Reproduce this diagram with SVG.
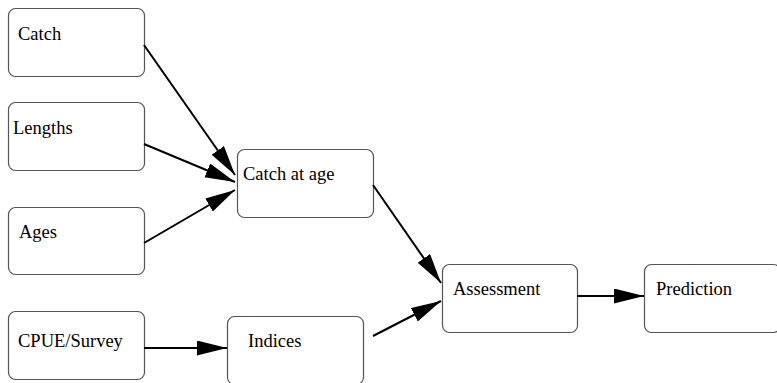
<svg xmlns="http://www.w3.org/2000/svg" width="777" height="383" viewBox="0 0 777 383">
<defs>
<marker id="ah" markerUnits="userSpaceOnUse" markerWidth="32" markerHeight="16" refX="30" refY="7.5" orient="auto">
<path d="M0,0 L30,7.5 L0,15 z" fill="#000"/>
</marker>
</defs>
<style>
.box{fill:#fff;stroke:#555;stroke-width:1.2}
.lbl{font-family:"Liberation Serif","Times New Roman",serif;font-size:18.5px;fill:#000}
.edge{stroke:#000;stroke-width:2;fill:none;marker-end:url(#ah)}
</style>
<rect width="777" height="383" fill="#fff"/>
<g id="catch"><rect class="box" x="8.5" y="8.5" width="136" height="68" rx="7"/><text class="lbl" x="18" y="40">Catch</text></g>
<g id="lengths"><rect class="box" x="8.5" y="102.5" width="136" height="68" rx="7"/><text class="lbl" x="13" y="134">Lengths</text></g>
<g id="ages"><rect class="box" x="8.5" y="207.5" width="136" height="67" rx="7"/><text class="lbl" x="19" y="238">Ages</text></g>
<g id="cpue"><rect class="box" x="8.5" y="311.5" width="136" height="68" rx="7"/><text class="lbl" x="18" y="347">CPUE/Survey</text></g>
<g id="catchatage"><rect class="box" x="237.5" y="149.5" width="136" height="68" rx="7"/><text class="lbl" x="243" y="180">Catch at age</text></g>
<g id="indices"><rect class="box" x="227.5" y="316.5" width="136" height="68" rx="7"/><text class="lbl" x="248" y="347">Indices</text></g>
<g id="assessment"><rect class="box" x="442.5" y="264.5" width="135" height="68" rx="7"/><text class="lbl" x="453" y="295">Assessment</text></g>
<g id="prediction"><rect class="box" x="644.5" y="264.5" width="136" height="68" rx="7"/><text class="lbl" x="656" y="295">Prediction</text></g>
<g id="connectors">
<line class="edge" x1="144" y1="45" x2="235" y2="175"/>
<line class="edge" x1="144" y1="144" x2="235" y2="182"/>
<line class="edge" x1="144" y1="243" x2="235" y2="190"/>
<line class="edge" x1="144" y1="348" x2="227" y2="348"/>
<line class="edge" x1="373" y1="185" x2="441" y2="283"/>
<line class="edge" x1="373" y1="336" x2="441" y2="301"/>
<line class="edge" x1="577" y1="296" x2="644" y2="296"/>
</g>
</svg>
